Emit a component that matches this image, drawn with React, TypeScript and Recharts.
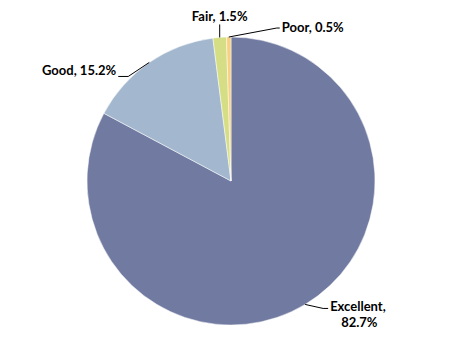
import React from 'react';
import { PieChart, Pie, Cell } from 'recharts';

const categories = ['Excellent', 'Good', 'Fair', 'Poor'];
const shares = [82.7, 15.2, 1.5, 0.5];

const COLORS = ['#717AA0', '#A3B8CF', '#D5DE85', '#F8D07F'];

// label leader line: [elbow dx, elbow dy, tail length, text anchor]
const LABEL_LAYOUT: { dx: number; dy: number; tail: number; anchor: 'start' | 'end' | 'middle' }[] = [
  { dx: 18, dy: 4, tail: 5, anchor: 'start' },
  { dx: -21, dy: 14, tail: -10, anchor: 'end' },
  { dx: 0, dy: -13, tail: 0, anchor: 'middle' },
  { dx: 48, dy: -9, tail: 3, anchor: 'start' },
];

const data = categories.map((name, i) => ({ name, value: shares[i] }));

const RADIAN = Math.PI / 180;

const renderLabel = (props: any) => {
  const { cx, cy, midAngle, outerRadius, index } = props;
  const sx = cx + outerRadius * Math.cos(-midAngle * RADIAN);
  const sy = cy + outerRadius * Math.sin(-midAngle * RADIAN);
  const l = LABEL_LAYOUT[index];
  const mx = sx + l.dx;
  const my = sy + l.dy;
  const ex = mx + l.tail;
  const ey = my;
  const text = `${categories[index]}, ${shares[index].toFixed(1)}%`;
  const common = {
    fontFamily: 'Lato, "Open Sans", sans-serif',
    fontWeight: 700,
    fontSize: 13,
    fill: '#000',
  };
  let label;
  if (index === 0) {
    label = (
      <text x={ex + 2} y={ey + 3} textAnchor="start" {...common}>
        <tspan x={ex + 2}>{categories[index]},</tspan>
        <tspan x={ex + 13} dy={16}>{shares[index].toFixed(1)}%</tspan>
      </text>
    );
  } else if (l.anchor === 'middle') {
    label = (
      <text x={ex} y={ey - 3} textAnchor="middle" {...common}>
        {text}
      </text>
    );
  } else if (l.anchor === 'end') {
    label = (
      <text x={ex - 2} y={ey - 1} textAnchor="end" {...common}>
        {text}
      </text>
    );
  } else {
    label = (
      <text x={ex + 2} y={ey + 4} textAnchor="start" {...common}>
        {text}
      </text>
    );
  }
  return (
    <g>
      <polyline points={`${sx},${sy} ${mx},${my} ${ex},${ey}`} fill="none" stroke="#000" strokeWidth={1} />
      {label}
    </g>
  );
};

export default function App() {
  return (
    <div style={{ width: 461, height: 362, margin: -8, background: '#fff' }}>
      <PieChart width={461} height={362} margin={{ top: 0, right: 0, bottom: 0, left: 0 }}>
        <Pie
          data={data}
          dataKey="value"
          nameKey="name"
          cx={231}
          cy={181}
          outerRadius={144}
          startAngle={90}
          endAngle={-270}
          stroke="#fff"
          strokeWidth={0.5}
          labelLine={false}
          label={renderLabel}
          isAnimationActive={false}
        >
          {data.map((d, i) => (
            <Cell key={d.name} fill={COLORS[i]} />
          ))}
        </Pie>
      </PieChart>
    </div>
  );
}
